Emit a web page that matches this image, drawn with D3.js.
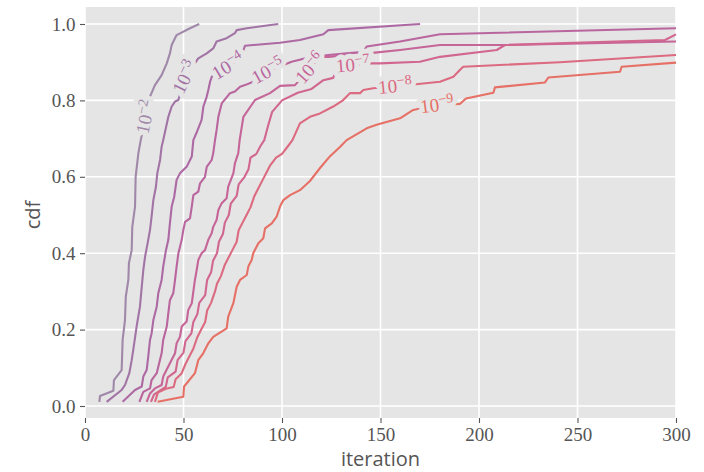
<!DOCTYPE html>
<html><head><meta charset="utf-8">
<script src="https://cdn.jsdelivr.net/npm/d3@7"></script>
<style>body{margin:0;background:#fff} .serif{font-family:"Liberation Serif","DejaVu Serif",serif !important}</style>
</head><body><svg id="c" width="704" height="472"></svg>
<script>
const xTicks = [0, 50, 100, 150, 200, 250, 300];
const yTicks = [0.0, 0.2, 0.4, 0.6, 0.8, 1.0];
const exponents = ["\u22122","\u22123","\u22124","\u22125","\u22126","\u22127","\u22128","\u22129"];
const colors = ["#a088a9","#a274a6","#ad69a3","#b9659e","#c56598","#d1668f","#dc6a80","#e67065"];
const labelX = [30.8, 50.8, 72.6, 92.9, 114.2, 136, 157.4, 178.7];

const tol2 = [[7.3,0.011],[7.6,0.026],[14.4,0.040],[14.7,0.068],[18.6,0.094],[19.1,0.173],[20.3,0.225],[20.7,0.286],[22.0,0.330],[22.3,0.374],[23.7,0.408],[24.0,0.469],[25.4,0.522],[25.7,0.600],[27.1,0.662],[28.3,0.696],[33.0,0.810],[35.5,0.840],[38.9,0.866],[41.5,0.897],[43.1,0.923],[44.0,0.945],[46.5,0.971],[53.3,0.989],[58.0,1.0]];
const tol3 = [[11.0,0.011],[18.6,0.042],[20.3,0.055],[22.5,0.086],[23.7,0.120],[24.5,0.147],[26.2,0.208],[27.9,0.260],[28.8,0.312],[29.6,0.356],[30.5,0.391],[32.1,0.435],[33.0,0.461],[33.8,0.496],[34.7,0.539],[36.0,0.574],[36.7,0.609],[38.1,0.644],[38.9,0.679],[39.7,0.696],[42.3,0.757],[44.0,0.784],[45.7,0.797],[47.4,0.801],[50.8,0.861],[57.5,0.910],[61.8,0.923],[65.1,0.936],[66.8,0.954],[71.9,0.963],[76.1,0.976],[77.0,0.984],[82.1,0.989],[98.1,1.0]];
const tol4 = [[19.1,0.011],[25.4,0.042],[28.8,0.051],[29.6,0.077],[31.3,0.094],[32.1,0.129],[33.0,0.173],[33.8,0.190],[34.7,0.225],[36.4,0.260],[37.2,0.295],[38.9,0.330],[39.7,0.365],[41.1,0.408],[42.3,0.435],[43.1,0.478],[44.0,0.522],[45.3,0.548],[46.5,0.592],[48.2,0.609],[51.6,0.626],[54.2,0.653],[55.0,0.696],[57.0,0.72],[59.2,0.749],[60.1,0.784],[61.8,0.810],[62.6,0.827],[63.5,0.849],[64.6,0.865],[79,0.91],[81.2,0.943],[99.0,0.951],[109.1,0.958],[121.0,0.973],[123.5,0.984],[170.1,1.0]];
const tol5 = [[27.6,0.011],[29.6,0.037],[33.0,0.046],[33.8,0.068],[36.4,0.086],[37.2,0.103],[38.9,0.138],[39.7,0.173],[41.5,0.208],[42.3,0.243],[43.1,0.277],[44.8,0.295],[45.7,0.330],[46.5,0.365],[47.4,0.400],[49.1,0.435],[49.9,0.461],[50.8,0.482],[53.3,0.491],[54.2,0.522],[55.0,0.552],[57.5,0.561],[58.4,0.583],[60.9,0.600],[61.8,0.626],[64.3,0.644],[65.1,0.662],[66.0,0.696],[66.8,0.722],[67.7,0.757],[69.4,0.792],[73.6,0.819],[76.1,0.823],[78.7,0.836],[81.2,0.840],[85.4,0.849],[92.9,0.877],[104.9,0.901],[110.0,0.908],[123.5,0.919],[141.3,0.927],[143.0,0.941],[159.9,0.954],[180.2,0.973],[300,0.989]];
const tol6 = [[31.3,0.011],[33.0,0.033],[35.5,0.046],[38.9,0.055],[39.7,0.077],[43.1,0.112],[45.7,0.138],[46.5,0.164],[48.2,0.181],[49.1,0.208],[51.6,0.221],[52.4,0.251],[54.2,0.269],[55.8,0.330],[56.7,0.356],[57.5,0.382],[59.2,0.400],[60.9,0.408],[62.6,0.435],[64.3,0.452],[65.1,0.469],[66.8,0.487],[67.7,0.513],[69.4,0.531],[71.9,0.544],[72.7,0.574],[75.3,0.609],[76.1,0.635],[77.8,0.662],[78.5,0.696],[80.4,0.757],[86.3,0.801],[93.9,0.819],[99,0.838],[106.6,0.840],[119.3,0.914],[123.4,0.914],[147.2,0.925],[159.9,0.932],[180.2,0.945],[214,0.945],[300,0.954]];
const tol7 = [[33.5,0.011],[35,0.03],[38,0.04],[41,0.05],[42,0.075],[46,0.09],[47,0.12],[50,0.14],[51,0.17],[54,0.19],[55,0.22],[57,0.24],[58,0.27],[61,0.29],[62,0.33],[64,0.35],[65,0.38],[67,0.40],[68,0.43],[70,0.45],[71,0.48],[73,0.50],[74,0.53],[77,0.55],[78,0.58],[81,0.60],[83,0.62],[84,0.65],[87,0.66],[89,0.68],[91,0.696],[93,0.735],[95,0.77],[100,0.80],[108,0.82],[115,0.83],[121,0.853],[126,0.859],[128.4,0.89],[144.7,0.897],[149.7,0.897],[170,0.901],[180.2,0.914],[209,0.932],[213.2,0.945],[294.4,0.958],[300,0.973]];
const tol8 = [[35.5,0.011],[37,0.035],[41,0.045],[45,0.05],[46,0.07],[49,0.085],[51,0.11],[53,0.13],[55,0.15],[57,0.18],[59,0.20],[61,0.22],[62,0.25],[64,0.27],[66,0.30],[67,0.32],[69,0.34],[71,0.37],[73,0.39],[75,0.41],[77,0.43],[78,0.46],[80,0.48],[82,0.50],[84,0.52],[86,0.55],[88,0.57],[90,0.59],[92,0.61],[94,0.63],[97,0.65],[100,0.66],[103,0.68],[105.3,0.696],[109.1,0.740],[114.2,0.757],[119.3,0.766],[126,0.784],[131.1,0.801],[134.5,0.819],[139.6,0.819],[141.3,0.827],[146.3,0.832],[169.2,0.843],[180.2,0.849],[187,0.862],[190.4,0.880],[192,0.888],[241,0.90],[300,0.919]];
const tol9 = [[36.9,0.011],[49.9,0.024],[50.3,0.051],[55.8,0.086],[57.5,0.120],[60.0,0.138],[62.6,0.164],[65.1,0.181],[71.9,0.203],[72.7,0.234],[75.3,0.269],[77.0,0.312],[78.7,0.330],[82.1,0.343],[82.9,0.365],[84.6,0.382],[85.4,0.400],[88.0,0.426],[90.5,0.439],[91.4,0.465],[94.8,0.478],[97.3,0.496],[99.0,0.522],[100.7,0.539],[104.1,0.552],[109.1,0.565],[114.2,0.589],[119.3,0.623],[124.4,0.654],[129.4,0.678],[132.8,0.696],[143,0.727],[148,0.736],[159.9,0.753],[166.6,0.775],[178.7,0.788],[190.4,0.791],[193.4,0.805],[207.3,0.820],[208.1,0.834],[233.5,0.847],[235.2,0.860],[271.6,0.875],[272.4,0.888],[300,0.899]];
const seriesList = [tol2, tol3, tol4, tol5, tol6, tol7, tol8, tol9];

const BG = "#E5E5E5";
const svg = d3.select("#c");
const L = 85, R = 676, T = 7, B = 418;
const x = d3.scaleLinear().domain([0, 300]).range([L, R]);
const y = d3.scaleLinear().domain([-0.0314, 1.0445]).range([B, T]);

svg.append("rect").attr("x", L).attr("y", T).attr("width", R - L).attr("height", B - T).attr("fill", BG);

const grid = svg.append("g");
grid.selectAll("line.gx").data(xTicks).join("line")
  .attr("x1", d => x(d)).attr("x2", d => x(d)).attr("y1", T).attr("y2", B)
  .attr("stroke", "#fff").attr("stroke-width", 1.6);
grid.selectAll("line.gy").data(yTicks).join("line")
  .attr("y1", d => y(d)).attr("y2", d => y(d)).attr("x1", L).attr("x2", R)
  .attr("stroke", "#fff").attr("stroke-width", 1.6);

const line = d3.line().x(d => x(d[0])).y(d => y(d[1]));
const plot = svg.append("g");
seriesList.forEach((s, i) => {
  plot.append("path").attr("d", line(s)).attr("fill", "none")
    .attr("stroke", colors[i]).attr("stroke-width", 2.1)
    .attr("stroke-linejoin", "round");
});

function placeLabel(s, lx) {
  const p = s.map(d => [x(d[0]), y(d[1])]);
  const cum = [0];
  for (let i = 1; i < p.length; i++) cum.push(cum[i - 1] + Math.hypot(p[i][0] - p[i - 1][0], p[i][1] - p[i - 1][1]));
  const px = x(lx);
  let sPos = 0;
  for (let i = 0; i < p.length - 1; i++) {
    if ((p[i][0] - px) * (p[i + 1][0] - px) <= 0 && p[i][0] !== p[i + 1][0]) {
      const t = (px - p[i][0]) / (p[i + 1][0] - p[i][0]);
      sPos = cum[i] + t * (cum[i + 1] - cum[i]);
      break;
    }
  }
  function at(sv) {
    sv = Math.max(0, Math.min(cum[cum.length - 1], sv));
    for (let i = 0; i < p.length - 1; i++) {
      if (sv <= cum[i + 1]) {
        const seg = cum[i + 1] - cum[i];
        const t = seg ? (sv - cum[i]) / seg : 0;
        return [p[i][0] + t * (p[i + 1][0] - p[i][0]), p[i][1] + t * (p[i + 1][1] - p[i][1])];
      }
    }
    return p[p.length - 1];
  }
  const c = at(sPos), a = at(sPos - 12), b = at(sPos + 12);
  return { c, ang: Math.atan2(b[1] - a[1], b[0] - a[0]) * 180 / Math.PI };
}

const halos = svg.append("g");
const labs = svg.append("g");
function addLabel(g, i, halo) {
  const t = g.append("text").attr("class", "serif").attr("text-anchor", "middle")
    .style("font-size", "19px");
  if (halo) {
    t.attr("fill", BG).attr("stroke", BG).attr("stroke-width", 10).attr("stroke-linejoin", "round");
  } else {
    t.attr("fill", colors[i]);
  }
  t.append("tspan").attr("dy", "0.33em").text("10");
  t.append("tspan").attr("dy", "-0.5em").style("font-size", "14px").text(exponents[i]);
}
seriesList.forEach((s, i) => {
  const { c, ang } = placeLabel(s, labelX[i]);
  const tr = `translate(${c[0]},${c[1]}) rotate(${ang})`;
  addLabel(halos.append("g").attr("transform", tr), i, true);
  addLabel(labs.append("g").attr("transform", tr), i, false);
});

const xa = svg.append("g").attr("transform", `translate(0,${B})`)
  .call(d3.axisBottom(x).tickValues(xTicks).tickSize(5).tickPadding(5).tickFormat(d3.format("d")));
const ya = svg.append("g").attr("transform", `translate(${L},0)`)
  .call(d3.axisLeft(y).tickValues(yTicks).tickSize(5).tickPadding(4.5).tickFormat(d3.format(".1f")));
[xa, ya].forEach(a => {
  a.attr("font-family", null).attr("font-size", null);
  a.select(".domain").remove();
  a.selectAll("line").attr("stroke", "#555").attr("stroke-width", 1.1);
  a.selectAll("text").attr("class", "serif").attr("fill", "#555").style("font-size", "19px");
});

svg.append("text").attr("x", (L + R) / 2).attr("y", 466).attr("text-anchor", "middle")
  .style("font-family", "'Open Sans', sans-serif").style("font-size", "20px").attr("fill", "#555").text("iteration");
svg.append("text").attr("transform", "translate(40,215) rotate(-90)").attr("text-anchor", "middle")
  .style("font-family", "'Open Sans', sans-serif").style("font-size", "20px").attr("fill", "#555").text("cdf");
</script></body></html>
